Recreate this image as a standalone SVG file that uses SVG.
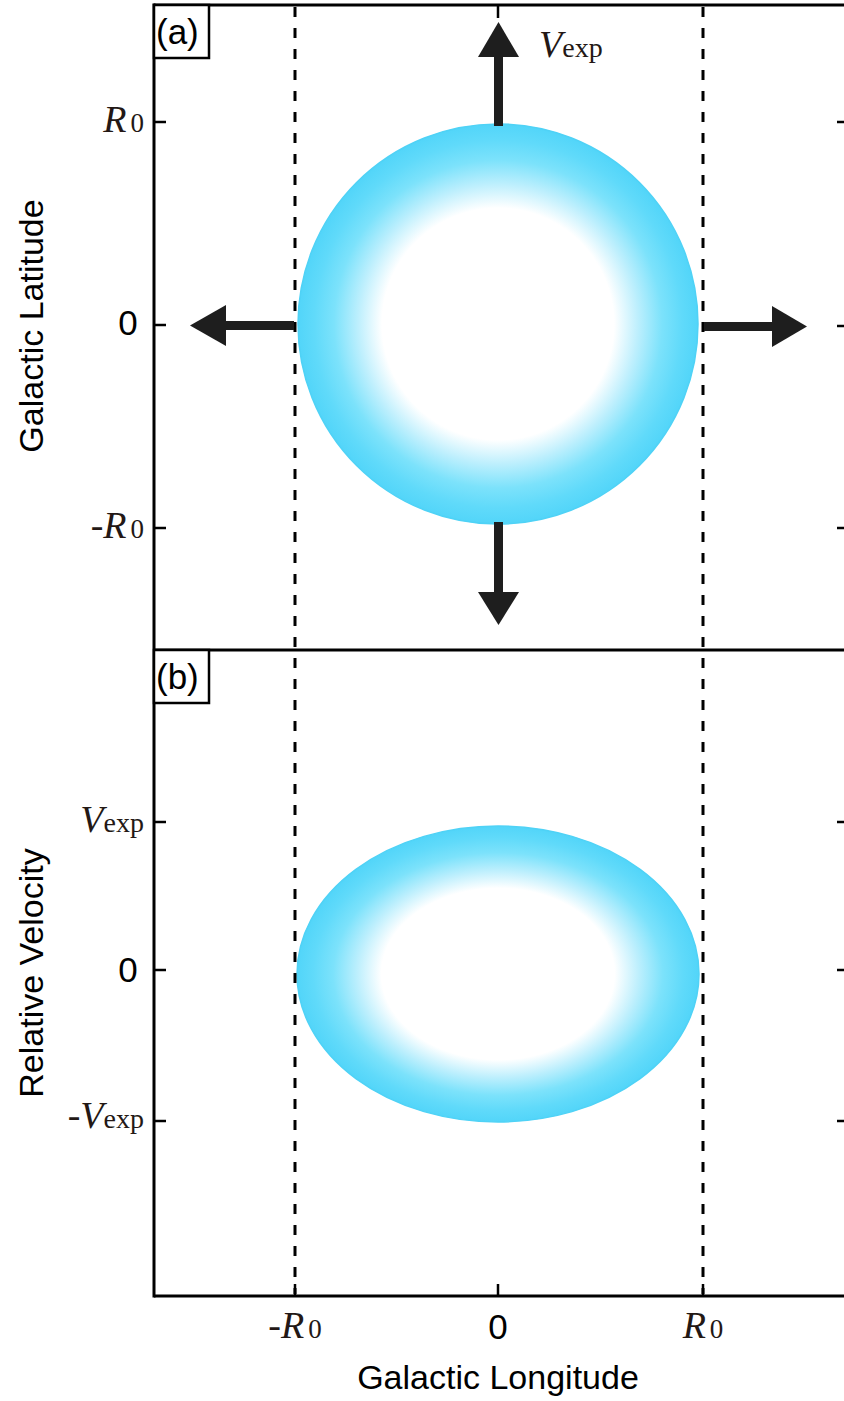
<svg xmlns="http://www.w3.org/2000/svg" width="844" height="1401" viewBox="0 0 844 1401">
<style>
.ax{stroke:#000;stroke-width:3;fill:none}
.tk{stroke:#000;stroke-width:2.5}
.dash{stroke:#000;stroke-width:3;stroke-dasharray:10 11}
.arr{fill:#1e1e1e}
.sans{font-family:"Liberation Sans",Arial,Helvetica,sans-serif;fill:#000}
.ser{font-family:"Liberation Serif","Times New Roman",serif;fill:#231815}
.it{font-style:italic}
.blob{stroke:#4fd2f6;stroke-width:1.5}
</style>
<defs>
<radialGradient id="g" cx="0.5" cy="0.5" r="0.5">
<stop offset="0" stop-color="#ffffff"/>
<stop offset="0.58" stop-color="#ffffff"/>
<stop offset="0.70" stop-color="#bdeffd"/>
<stop offset="0.82" stop-color="#7ce2fb"/>
<stop offset="0.92" stop-color="#60dafa"/>
<stop offset="1" stop-color="#52d5f9"/>
</radialGradient>
</defs>
<rect width="844" height="1401" fill="#fff"/>

<g id="shell-a">
<circle class="blob" cx="498" cy="324" r="200" fill="url(#g)"/>
</g>
<g id="shell-b">
<ellipse class="blob" cx="498" cy="974" rx="201" ry="148" fill="url(#g)"/>
</g>

<g id="guides">
<line class="dash" x1="295" y1="7" x2="295" y2="1294"/>
<line class="dash" x1="703" y1="7" x2="703" y2="1294"/>
</g>

<g id="frame">
<line class="ax" x1="154" y1="5" x2="844" y2="5"/>
<line class="ax" x1="154" y1="3.5" x2="154" y2="1297.5"/>
<line class="ax" x1="154" y1="650" x2="844" y2="650"/>
<line class="ax" x1="154" y1="1296" x2="844" y2="1296"/>
<line class="tk" x1="154" y1="122" x2="166" y2="122"/>
<line class="tk" x1="154" y1="325" x2="166" y2="325"/>
<line class="tk" x1="154" y1="528" x2="166" y2="528"/>
<line class="tk" x1="154" y1="822" x2="166" y2="822"/>
<line class="tk" x1="154" y1="970" x2="166" y2="970"/>
<line class="tk" x1="154" y1="1121" x2="166" y2="1121"/>
<line class="tk" x1="837" y1="122" x2="844" y2="122"/>
<line class="tk" x1="837" y1="326" x2="844" y2="326"/>
<line class="tk" x1="837" y1="528" x2="844" y2="528"/>
<line class="tk" x1="837" y1="822" x2="844" y2="822"/>
<line class="tk" x1="837" y1="970" x2="844" y2="970"/>
<line class="tk" x1="837" y1="1121" x2="844" y2="1121"/>
<line class="tk" x1="498" y1="5" x2="498" y2="18"/>
<line class="tk" x1="295" y1="1284" x2="295" y2="1296"/>
<line class="tk" x1="498" y1="1284" x2="498" y2="1296"/>
<line class="tk" x1="703" y1="1284" x2="703" y2="1296"/>
</g>

<g id="arrows">
<rect class="arr" x="494" y="56" width="9" height="70"/>
<polygon class="arr" points="498.5,22 478,57 519,57"/>
<rect class="arr" x="494" y="522" width="9" height="71"/>
<polygon class="arr" points="498.5,625 478,592 519,592"/>
<rect class="arr" x="225" y="321" width="69" height="9"/>
<polygon class="arr" points="190,325.5 226,305 226,346"/>
<rect class="arr" x="704" y="322" width="69" height="9"/>
<polygon class="arr" points="807,326.5 772,306 772,347"/>
</g>

<g id="panel-labels">
<rect x="154" y="5" width="55" height="53" fill="#fff" stroke="#000" stroke-width="2.5"/>
<text class="sans" x="156" y="44" font-size="35">(a)</text>
<rect x="154" y="650" width="55" height="53" fill="#fff" stroke="#000" stroke-width="2.5"/>
<text class="sans" x="156" y="689" font-size="35">(b)</text>
</g>

<g id="vexp-label">
<text class="ser" x="539" y="57"><tspan class="it" font-size="38">V</tspan><tspan font-size="28">exp</tspan></text>
</g>

<g id="y-labels">
<text class="ser" x="144" y="132" text-anchor="end"><tspan class="it" font-size="38">R</tspan><tspan font-size="27" dx="4">0</tspan></text>
<text class="sans" x="128" y="335" font-size="35" text-anchor="middle">0</text>
<text class="ser" x="144" y="538" text-anchor="end"><tspan font-size="38">-</tspan><tspan class="it" font-size="38">R</tspan><tspan font-size="27" dx="4">0</tspan></text>
<text class="ser" x="144" y="832" text-anchor="end"><tspan class="it" font-size="38">V</tspan><tspan font-size="28">exp</tspan></text>
<text class="sans" x="128" y="982" font-size="35" text-anchor="middle">0</text>
<text class="ser" x="144" y="1128" text-anchor="end"><tspan font-size="38">-</tspan><tspan class="it" font-size="38">V</tspan><tspan font-size="28">exp</tspan></text>
</g>

<g id="x-labels">
<text class="ser" x="295" y="1338" text-anchor="middle"><tspan font-size="38">-</tspan><tspan class="it" font-size="38">R</tspan><tspan font-size="27" dx="4">0</tspan></text>
<text class="sans" x="498" y="1339" font-size="35" text-anchor="middle">0</text>
<text class="ser" x="703" y="1338" text-anchor="middle"><tspan class="it" font-size="38">R</tspan><tspan font-size="27" dx="4">0</tspan></text>
</g>

<g id="axis-titles">
<text class="sans" x="498" y="1389" font-size="34" text-anchor="middle">Galactic Longitude</text>
<text class="sans" transform="translate(43,326) rotate(-90)" font-size="34" text-anchor="middle">Galactic Latitude</text>
<text class="sans" transform="translate(43,973) rotate(-90)" font-size="34" text-anchor="middle">Relative Velocity</text>
</g>
</svg>
